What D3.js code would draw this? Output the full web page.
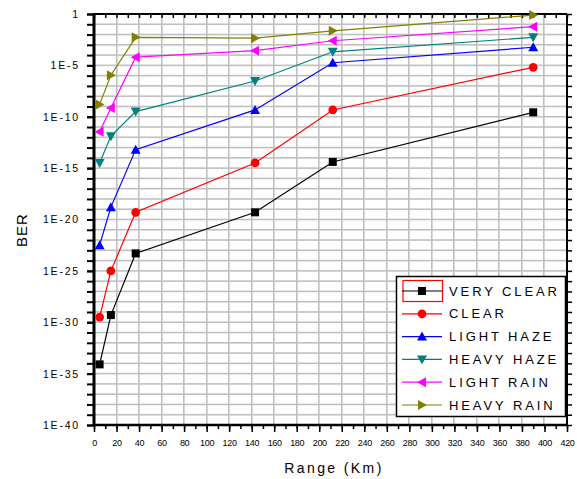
<!DOCTYPE html>
<html><head><meta charset="utf-8">
<script src="https://cdn.jsdelivr.net/npm/d3@7/dist/d3.min.js"></script>
<style>body{margin:0;background:#fff}svg{display:block;font-family:Arial,"Liberation Sans",sans-serif}</style>
</head><body>
<svg id="c" width="577" height="479"></svg>
<script>
const rangeKm = [5, 15, 37, 143, 212, 390];
const seriesNames = ["VERY CLEAR", "CLEAR", "LIGHT HAZE", "HEAVY HAZE", "LIGHT RAIN", "HEAVY RAIN"];
const veryClear = [7.9e-35, 5e-30, 5e-24, 5e-20, 4e-15, 2.7e-10];
const clear     = [3.2e-30, 1e-25, 5e-20, 3.2e-15, 4.6e-10, 6.5e-6];
const lightHaze = [3.2e-23, 1.6e-19, 6.3e-14, 4.6e-10, 1.8e-5, 5.8e-4];
const heavyHaze = [3.2e-15, 1.3e-12, 3.2e-10, 3e-7, 2.1e-4, 5.4e-3];
const lightRain = [3.5e-12, 7e-10, 6.3e-5, 2.7e-4, 2.5e-3, 5.8e-2];
const heavyRain = [1.6e-9, 1.1e-6, 5.4e-3, 4.4e-3, 2.3e-2, 0.79];
const xTicks = [0,20,40,60,80,100,120,140,160,180,200,220,240,260,280,300,320,340,360,380,400,420];
const yTickLabels = ["1","1E-5","1E-10","1E-15","1E-20","1E-25","1E-30","1E-35","1E-40"];
const yTickValues = [1,1e-5,1e-10,1e-15,1e-20,1e-25,1e-30,1e-35,1e-40];

const colors = ["#000000","#ff0000","#0000ff","#008080","#ff00ff","#808000"];
const symbols = ["square","circle","up","down","left","right"];
const allSeries = [veryClear, clear, lightHaze, heavyHaze, lightRain, heavyRain];

const svg = d3.select("#c");
const L = 94, R = 567, T = 14, B = 425;
const x = d3.scaleLinear().domain([0,420]).range([L,R]);
const y = d3.scaleLog().domain([1e-40,1]).range([B,T]);
const decades = d3.range(0,41).map(k => Math.pow(10,-k));

// grid (drawn as explicit rects so it renders crisply)
const gridG = svg.append("g");
gridG.selectAll("rect.gv").data(xTicks.filter(d=>d>0&&d<420)).join("rect").attr("class","gv")
  .attr("x",d=>Math.round(x(d))-1).attr("y",T).attr("width",1.6).attr("height",B-T).attr("fill","#c0c0c0");
gridG.selectAll("rect.gh").data(decades.filter(d=>d<1&&d>1e-40)).join("rect").attr("class","gh")
  .attr("x",L).attr("y",d=>y(d)-0.8).attr("width",R-L).attr("height",1.6).attr("fill","#c0c0c0");

// axes
const xMinor = d3.range(0,421,10);
const axB = svg.append("g").attr("transform",`translate(0,${B})`)
  .call(d3.axisBottom(x).tickValues(xMinor).tickSize(4).tickFormat(""));
axB.select(".domain").remove();
axB.selectAll("line").attr("stroke","#000").attr("stroke-width",1.5);
const axBM = svg.append("g").attr("transform",`translate(0,${B})`)
  .call(d3.axisBottom(x).tickValues(xTicks).tickSize(7).tickPadding(8).tickFormat(d=>d));
axBM.select(".domain").remove();
axBM.selectAll("line").attr("stroke","#000").attr("stroke-width",1.5);
axBM.selectAll("text").attr("font-size","9px").attr("fill","#000").attr("letter-spacing","-0.3px");

const axT = svg.append("g").attr("transform",`translate(0,${T})`)
  .call(d3.axisTop(x).tickValues(xMinor).tickSize(-4).tickFormat(""));
axT.select(".domain").remove();
axT.selectAll("line").attr("stroke","#000").attr("stroke-width",1.5);

const axL = svg.append("g").attr("transform",`translate(${L},0)`)
  .call(d3.axisLeft(y).tickValues(decades).tickSize(7).tickFormat(""));
axL.select(".domain").remove();
axL.selectAll("line").attr("stroke","#000").attr("stroke-width",2);
const axLL = svg.append("g").attr("transform",`translate(${L},0)`)
  .call(d3.axisLeft(y).tickValues(yTickValues).tickSize(7).tickPadding(7).tickFormat((d,i)=>yTickLabels[i]));
axLL.select(".domain").remove();
axLL.selectAll("line").attr("stroke","#000").attr("stroke-width",2);
axLL.selectAll("text").attr("font-size","10.5px").attr("fill","#000").style("letter-spacing","1.8px");

const axR = svg.append("g").attr("transform",`translate(${R},0)`)
  .call(d3.axisRight(y).tickValues(decades).tickSize(5).tickFormat(""));
axR.select(".domain").remove();
axR.selectAll("line").attr("stroke","#000").attr("stroke-width",1.5);

// frame
svg.append("line").attr("x1",L).attr("x2",R).attr("y1",T).attr("y2",T).attr("stroke","#000").attr("stroke-width",2);
svg.append("line").attr("x1",R).attr("x2",R).attr("y1",T).attr("y2",B).attr("stroke","#000").attr("stroke-width",2);
svg.append("line").attr("x1",L).attr("x2",R+1).attr("y1",B).attr("y2",B).attr("stroke","#000").attr("stroke-width",2.5);
svg.append("line").attr("x1",L).attr("x2",L).attr("y1",T-1).attr("y2",B+1).attr("stroke","#000").attr("stroke-width",3);

// marker path
function markerPath(sym){
  const s = 5;
  switch(sym){
    case "square": return `M${-4},${-4}H4V4H-4Z`;
    case "circle": return d3.symbol(d3.symbolCircle, 60)();
    case "up": return `M0,${-s}L${s},${s*0.8}L${-s},${s*0.8}Z`;
    case "down": return `M0,${s}L${s},${-s*0.8}L${-s},${-s*0.8}Z`;
    case "left": return `M${-s},0L${s*0.8},${-s}L${s*0.8},${s}Z`;
    case "right": return `M${s},0L${-s*0.8},${-s}L${-s*0.8},${s}Z`;
  }
}

const lineGen = d3.line().x(d=>x(d[0])).y(d=>y(d[1]));
allSeries.forEach((vals,i)=>{
  const pts = rangeKm.map((r,j)=>[r,vals[j]]);
  svg.append("path").attr("d",lineGen(pts)).attr("fill","none").attr("stroke",colors[i]).attr("stroke-width",1.2);
  svg.append("g").selectAll("path").data(pts).join("path")
    .attr("transform",d=>`translate(${x(d[0])},${y(d[1])})`)
    .attr("d",markerPath(symbols[i])).attr("fill",colors[i]);
});

// legend
const lg = svg.append("g");
lg.append("rect").attr("x",396.5).attr("y",276.5).attr("width",169).attr("height",140)
  .attr("fill","#fff").attr("stroke","#000").attr("stroke-width",1.5);
lg.append("rect").attr("x",403).attr("y",280.5).attr("width",39.5).attr("height",21)
  .attr("fill","none").attr("stroke","#ff0000").attr("stroke-width",1.2);
const legY = d3.scaleLinear().domain([0,5]).range([291,405]);
seriesNames.forEach((n,i)=>{
  const yy = legY(i);
  lg.append("line").attr("x1",402).attr("x2",442).attr("y1",yy).attr("y2",yy).attr("stroke",colors[i]).attr("stroke-width",1.2);
  lg.append("path").attr("transform",`translate(422,${yy})`).attr("d",markerPath(symbols[i])).attr("fill",colors[i]);
  lg.append("text").attr("x",449).attr("y",yy).attr("dy","0.36em").attr("font-size","13px")
    .attr("letter-spacing","2.9px").attr("fill","#000").text(n);
});

// axis titles
svg.append("text").attr("x",334).attr("y",468).attr("dy","0.36em").attr("text-anchor","middle")
  .attr("font-size","14px").attr("letter-spacing","2.4px").attr("fill","#000").text("Range (Km)");
svg.append("text").attr("transform","translate(22,230) rotate(-90)").attr("dy","0.36em").attr("text-anchor","middle")
  .attr("font-size","15px").attr("letter-spacing","1px").attr("fill","#000").text("BER");
</script>
</body></html>
